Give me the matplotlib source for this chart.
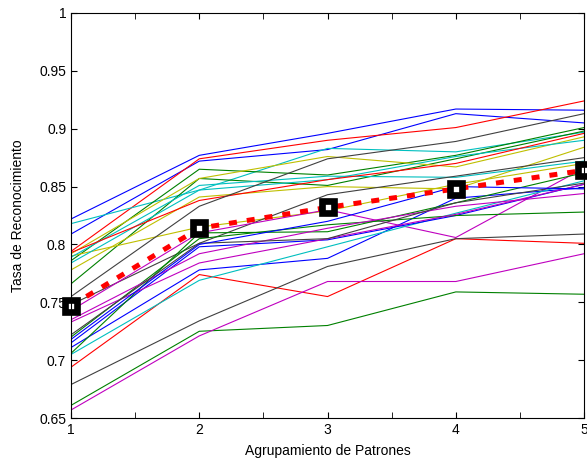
import numpy as np
import matplotlib
matplotlib.use("Agg")
import matplotlib.pyplot as plt

plt.rcParams['font.family'] = ['Liberation Sans', 'DejaVu Sans']

# grouping levels
agrupamiento = [1, 2, 3, 4, 5]
x_minor = [1.5, 2.5, 3.5, 4.5]

# recognition rate of each individual run (colour key, values)
lineas = [
    ('b', [0.822, 0.877, 0.896, 0.917, 0.916]),
    ('b', [0.809, 0.872, 0.882, 0.913, 0.905]),
    ('r', [0.794, 0.874, 0.890, 0.901, 0.924]),
    ('c', [0.818, 0.847, 0.883, 0.880, 0.897]),
    ('g', [0.786, 0.865, 0.860, 0.877, 0.901]),
    ('g', [0.766, 0.857, 0.851, 0.874, 0.898]),
    ('y', [0.792, 0.857, 0.876, 0.867, 0.893]),
    ('y', [0.778, 0.841, 0.850, 0.848, 0.884]),
    ('y', [0.790, 0.815, 0.829, 0.852, 0.870]),
    ('c', [0.789, 0.851, 0.859, 0.858, 0.872]),
    ('c', [0.784, 0.847, 0.856, 0.876, 0.890]),
    ('r', [0.793, 0.838, 0.856, 0.870, 0.896]),
    ('k', [0.755, 0.833, 0.874, 0.889, 0.913]),
    ('k', [0.748, 0.801, 0.843, 0.859, 0.875]),
    ('m', [0.743, 0.810, 0.830, 0.806, 0.866]),
    ('r', [0.694, 0.774, 0.755, 0.805, 0.801]),
    ('k', [0.679, 0.734, 0.781, 0.805, 0.809]),
    ('g', [0.661, 0.725, 0.730, 0.759, 0.757]),
    ('m', [0.657, 0.721, 0.768, 0.768, 0.792]),
    ('b', [0.711, 0.778, 0.788, 0.840, 0.849]),
    ('c', [0.705, 0.769, 0.798, 0.827, 0.855]),
    ('b', [0.715, 0.798, 0.804, 0.825, 0.852]),
    ('g', [0.720, 0.805, 0.817, 0.825, 0.828]),
    ('g', [0.706, 0.810, 0.811, 0.836, 0.862]),
    ('m', [0.735, 0.792, 0.814, 0.833, 0.844]),
    ('m', [0.733, 0.784, 0.805, 0.826, 0.852]),
    ('k', [0.722, 0.801, 0.805, 0.836, 0.853]),
    ('b', [0.718, 0.800, 0.820, 0.850, 0.848]),
]

# average curve
promedio = [0.747, 0.814, 0.832, 0.848, 0.864]

y_ticks = [0.65, 0.7, 0.75, 0.8, 0.85, 0.9, 0.95, 1]
y_labels = ['0.65', '0.7', '0.75', '0.8', '0.85', '0.9', '0.95', '1']

# matlab-like colours
colores = {
    'b': (0.0, 0.0, 1.0),
    'r': (1.0, 0.0, 0.0),
    'g': (0.0, 0.5, 0.0),
    'c': (0.0, 0.75, 0.75),
    'm': (0.75, 0.0, 0.75),
    'y': (0.75, 0.75, 0.0),
    'k': (0.25, 0.25, 0.25),
}

fig = plt.figure(figsize=(5.87, 4.63), dpi=100)
ax = fig.add_axes([0.121, 0.097, 0.874, 0.875])

for c, vals in lineas:
    ax.plot(agrupamiento, vals, '-', color=colores[c], linewidth=0.8)

ax.plot(agrupamiento, promedio, color='r', linewidth=3.6,
        linestyle=(0, (1.6, 2.0)), dash_capstyle='butt')
ax.plot(agrupamiento, promedio, 's', markersize=8.5, markerfacecolor='w',
        markeredgecolor='k', markeredgewidth=4.8, clip_on=False)

ax.set_xlim(1, 5)
ax.set_ylim(0.65, 1)
ax.set_xticks(agrupamiento)
ax.set_xticks(x_minor, minor=True)
ax.set_yticks(y_ticks)
ax.set_yticklabels(y_labels)
ax.tick_params(which='both', direction='in', top=True, right=True, labelsize=10, length=4)
ax.set_xlabel('Agrupamiento de Patrones', fontsize=10, labelpad=5)
ax.set_ylabel('Tasa de Reconocimiento', fontsize=10, labelpad=10)

fig.savefig('out.png', dpi=100)
